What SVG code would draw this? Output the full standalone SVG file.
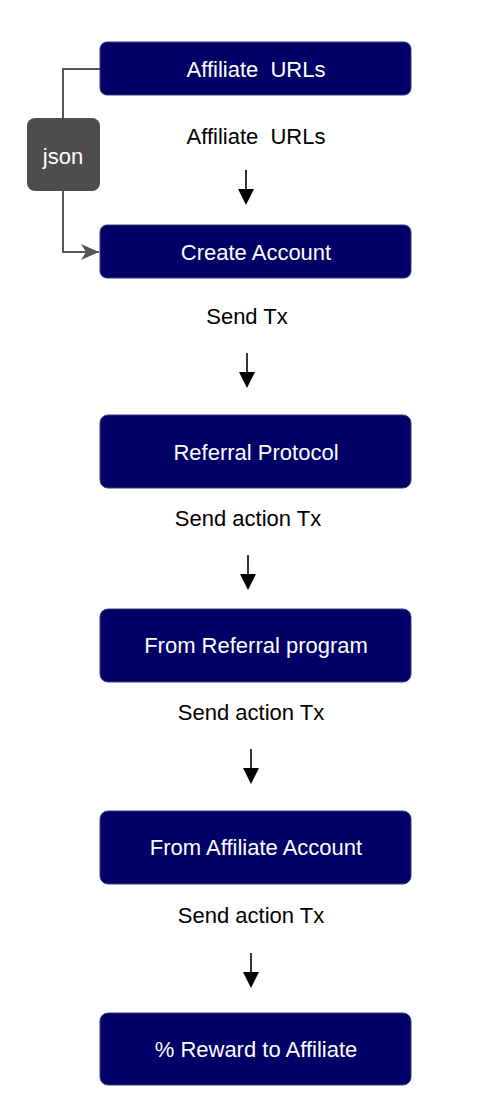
<svg xmlns="http://www.w3.org/2000/svg" width="492" height="1108" viewBox="0 0 492 1108">
<style>
.box{fill:#000066;stroke:#3a3a80;stroke-width:1}
.bt{font-family:"Liberation Sans",Arial,sans-serif;font-size:22px;fill:#ffffff;text-anchor:middle;white-space:pre}
.lt{font-family:"Liberation Sans",Arial,sans-serif;font-size:22px;fill:#000000;text-anchor:middle;white-space:pre}
.arr{stroke:#000;stroke-width:1.6;fill:none}
.ah{fill:#000}
</style>
<defs>
<marker id="gh" markerWidth="20" markerHeight="18" refX="18" refY="9" orient="auto" markerUnits="userSpaceOnUse">
<path d="M0,1 L18,9 L0,17 L5,9 Z" fill="#555555"/>
</marker>
</defs>
<g id="connectors">
<path d="M100,69 H63 V252 H99" stroke="#555555" stroke-width="2" fill="none" marker-end="url(#gh)"/>
<line class="arr" x1="246" y1="170" x2="246" y2="192"/>
<path class="ah" d="M238,189 L254,189 L246,205 Z"/>
<line class="arr" x1="247" y1="353" x2="247" y2="375"/>
<path class="ah" d="M239,372 L255,372 L247,388 Z"/>
<line class="arr" x1="248" y1="555" x2="248" y2="577"/>
<path class="ah" d="M240,574 L256,574 L248,590 Z"/>
<line class="arr" x1="251" y1="749" x2="251" y2="771"/>
<path class="ah" d="M243,768 L259,768 L251,784 Z"/>
<line class="arr" x1="251" y1="953" x2="251" y2="975"/>
<path class="ah" d="M243,972 L259,972 L251,988 Z"/>
</g>
<g id="json">
<rect x="27" y="118" width="73" height="73" rx="8" fill="#4d4d4d"/>
<text class="bt" x="63" y="164">json</text>
</g>
<g id="affiliate-urls">
<rect class="box" x="100" y="42" width="311" height="53" rx="7"/>
<text class="bt" x="256" y="77">Affiliate  URLs</text>
</g>
<g id="label-affiliate-urls">
<text class="lt" x="256" y="144">Affiliate  URLs</text>
</g>
<g id="create-account">
<rect class="box" x="100" y="225" width="311" height="53" rx="7"/>
<text class="bt" x="256" y="260">Create Account</text>
</g>
<g id="label-send-tx">
<text class="lt" x="247" y="324">Send Tx</text>
</g>
<g id="referral-protocol">
<rect class="box" x="100" y="415" width="311" height="73" rx="8"/>
<text class="bt" x="256" y="460">Referral Protocol</text>
</g>
<g id="label-send-action-1">
<text class="lt" x="248" y="526">Send action Tx</text>
</g>
<g id="from-referral-program">
<rect class="box" x="100" y="609" width="311" height="73" rx="8"/>
<text class="bt" x="256" y="653">From Referral program</text>
</g>
<g id="label-send-action-2">
<text class="lt" x="251" y="720">Send action Tx</text>
</g>
<g id="from-affiliate-account">
<rect class="box" x="100" y="811" width="311" height="73" rx="8"/>
<text class="bt" x="256" y="855">From Affiliate Account</text>
</g>
<g id="label-send-action-3">
<text class="lt" x="251" y="923">Send action Tx</text>
</g>
<g id="reward">
<rect class="box" x="100" y="1013" width="311" height="72" rx="8"/>
<text class="bt" x="256" y="1057">% Reward to Affiliate</text>
</g>
</svg>
